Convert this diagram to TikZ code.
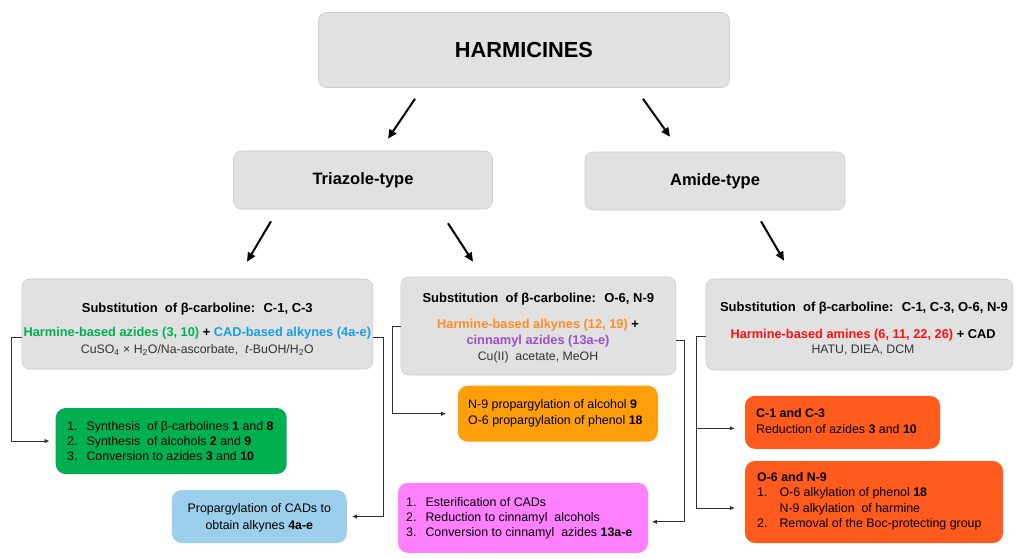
\documentclass[tikz,border=0pt]{standalone}
\usepackage{fontspec}
\setmainfont{Liberation Sans}
\usetikzlibrary{arrows.meta,calc}
\definecolor{boxgray}{HTML}{E1E1E1}
\definecolor{boxline}{HTML}{CDCDCD}
\definecolor{gbox}{HTML}{00B050}
\definecolor{bbox}{HTML}{9BCFEC}
\definecolor{obox}{HTML}{FF9E0B}
\definecolor{mbox}{HTML}{FF80FF}
\definecolor{rbox}{HTML}{FF5B1E}
\definecolor{tgreen}{HTML}{00B050}
\definecolor{tblue}{HTML}{1A9DE0}
\definecolor{torange}{HTML}{FF8C28}
\definecolor{tpurple}{HTML}{9E4FC8}
\definecolor{tred}{HTML}{FF1010}
\definecolor{tgray}{HTML}{333333}
\definecolor{connc}{HTML}{303030}
\begin{document}
\begin{tikzpicture}[x=1pt,y=-1pt,
  graybox/.style={draw=boxline,fill=boxgray,rounded corners=8pt,line width=0.6pt,inner sep=0pt},
  colbox/.style={rounded corners=10pt,inner sep=0pt},
  bigarrow/.style={line width=2pt,-{Triangle[length=9pt,width=8pt]}},
  conn/.style={line width=0.8pt,draw=connc,-{Latex[length=5pt,width=4.5pt]}},
  txt/.style={inner sep=0pt,font=\fontsize{12.4}{15}\selectfont},
  btxt/.style={inner sep=0pt,font=\bfseries\fontsize{13}{15}\selectfont}
]
\useasboundingbox[fill=white] (0,0) rectangle (1016,558);

% top level
\node[graybox,minimum width=411pt,minimum height=75pt] (H) at (524,50) {};
\node[inner sep=0pt,font=\bfseries\fontsize{21.8}{24}\selectfont] (Ht) at (H) {HARMICINES};

\node[graybox,minimum width=259pt,minimum height=58pt] (T) at (363,180) {};
\node[inner sep=0pt,font=\bfseries\fontsize{16.5}{18}\selectfont] (Tt) at (T) {Triazole-type};

\node[graybox,minimum width=260pt,minimum height=58pt] (A) at (715,181) {};
\node[inner sep=0pt,font=\bfseries\fontsize{16.5}{18}\selectfont] (At) at (A) {Amide-type};

% substitution boxes
\node[graybox,minimum width=351pt,minimum height=90pt] (s1) at (197.3,324) {};
\node[btxt] (s1t) at (197.3,309) {Substitution~ of β-carboline:~ C-1, C-3};
\node[btxt,align=center,font=\bfseries\fontsize{12.8}{17}\selectfont] (s1c) at (197.3,341.5)
  {{\color{tgreen}Harmine-based azides (3, 10)} + {\color{tblue}CAD-based alkynes (4a-e)}\\
   {\mdseries\fontsize{12.3}{17}\selectfont\color{tgray}CuSO\textsubscript{4} × H\textsubscript{2}O/Na-ascorbate,~ \textit{t}-BuOH/H\textsubscript{2}O}};

\node[graybox,minimum width=275pt,minimum height=98pt] (s2) at (538.3,326) {};
\node[btxt] (s2t) at (538.3,299) {Substitution~ of β-carboline:~ O-6, N-9};
\node[btxt,align=center,font=\bfseries\fontsize{12.8}{16}\selectfont] (s2c) at (538,341)
  {{\color{torange}Harmine-based alkynes (12, 19)} +\\
   {\color{tpurple}cinnamyl azides (13a-e)}\\
   {\mdseries\fontsize{12.3}{16}\selectfont\color{tgray}Cu(II)~ acetate, MeOH}};

\node[graybox,minimum width=307pt,minimum height=91pt] (s3) at (859.3,324.5) {};
\node[btxt] (s3t) at (864,308) {Substitution~ of β-carboline:~ C-1, C-3, O-6, N-9};
\node[btxt,align=center,font=\bfseries\fontsize{12.8}{15}\selectfont] (s3c) at (863,342.5)
  {{\color{tred}Harmine-based amines (6, 11, 22, 26)} + CAD\\
   {\mdseries\fontsize{12.3}{15}\selectfont\color{tgray}HATU, DIEA, DCM}};

% coloured boxes
\node[colbox,fill=gbox,minimum width=231pt,minimum height=66pt] (g1) at (171.2,441) {};
\node[txt,anchor=west] (g1t) at (67,442) {\begin{tabular}{@{}l@{\hspace{9pt}}l@{}}
1. & Synthesis~ of β-carbolines \textbf{1} and \textbf{8}\\
2. & Synthesis~ of alcohols \textbf{2} and \textbf{9}\\
3. & Conversion to azides \textbf{3} and \textbf{10}
\end{tabular}};

\node[colbox,fill=bbox,minimum width=175pt,minimum height=53pt] (b1) at (259.3,516.5) {};
\node[txt,align=center,font=\fontsize{12.4}{17}\selectfont] (b1t) at (259.3,517.5)
  {Propargylation of CADs to\\ obtain alkynes \textbf{4a-e}};

\node[colbox,fill=obox,minimum width=200pt,minimum height=56pt] (o1) at (557.8,413.7) {};
\node[txt,anchor=west,align=left,font=\fontsize{12.4}{16}\selectfont] (o1t) at (468,413)
  {N-9 propargylation of alcohol \textbf{9}\\ O-6 propargylation of phenol \textbf{18}};

\node[colbox,fill=mbox,minimum width=250pt,minimum height=70pt] (m1) at (523,517.8) {};
\node[txt,anchor=west] (m1t) at (406,518.5) {\begin{tabular}{@{}l@{\hspace{9pt}}l@{}}
1. & Esterification of CADs\\
2. & Reduction to cinnamyl~ alcohols\\
3. & Conversion to cinnamyl~ azides \textbf{13a-e}
\end{tabular}};

\node[colbox,fill=rbox,minimum width=195pt,minimum height=53pt] (r1) at (842.5,422.3) {};
\node[txt,anchor=west,align=left,font=\fontsize{12.4}{16}\selectfont] (r1t) at (756,421)
  {\textbf{C-1 and C-3}\\ Reduction of azides \textbf{3} and \textbf{10}};

\node[colbox,fill=rbox,minimum width=258pt,minimum height=82pt] (r2) at (874,502) {};
\node[txt,anchor=west,font=\fontsize{12.4}{15.5}\selectfont] (r2t) at (757,501.5) {\begin{tabular}{@{}l@{\hspace{12pt}}l@{}}
\multicolumn{2}{@{}l}{\textbf{O-6 and N-9}}\\
1. & O-6 alkylation of phenol \textbf{18}\\
   & N-9 alkylation~ of harmine\\
2. & Removal of the Boc-protecting group
\end{tabular}};

% main arrows
\draw[bigarrow] ([xshift=-109pt,yshift=-11pt]H.south) -- ([xshift=25pt,yshift=12pt]T.north);
\draw[bigarrow] ([xshift=119pt,yshift=-11pt]H.south) -- ([xshift=-45pt,yshift=15pt]A.north);
\draw[bigarrow] ([xshift=-92pt,yshift=-12pt]T.south) -- ([xshift=49.7pt,yshift=17pt]s1.north);
\draw[bigarrow] ([xshift=85pt,yshift=-14pt]T.south) -- ([xshift=-65.3pt,yshift=15pt]s2.north);
\draw[bigarrow] ([xshift=46pt,yshift=-11pt]A.south) -- ([xshift=-75.3pt,yshift=18pt]s3.north);

% connectors
\draw[conn] ([yshift=-13pt]s1.west) -- ++(-9.7,0) |- ([xshift=-6pt]g1.west);
\draw[conn] ([yshift=-13pt]s1.east) -- ++(10,0) |- ([xshift=5pt]b1.east);
\draw[conn] (s2.west) -- ++(-8,0) |- ([xshift=-11.5pt]o1.west);
\draw[conn] ([yshift=-14pt]s2.east) -- ++(8,0) |- ([xshift=3.7pt,yshift=-4pt]m1.east);
\coordinate (j3) at ([xshift=-9pt,yshift=-12pt]s3.west);
\draw[conn] ([yshift=-12pt]s3.west) -- (j3) |- ([xshift=-10pt,yshift=-6pt]r2.west);
\draw[conn] (j3) |- ([xshift=-10pt,yshift=-6pt]r1.west);
\end{tikzpicture}
\end{document}
